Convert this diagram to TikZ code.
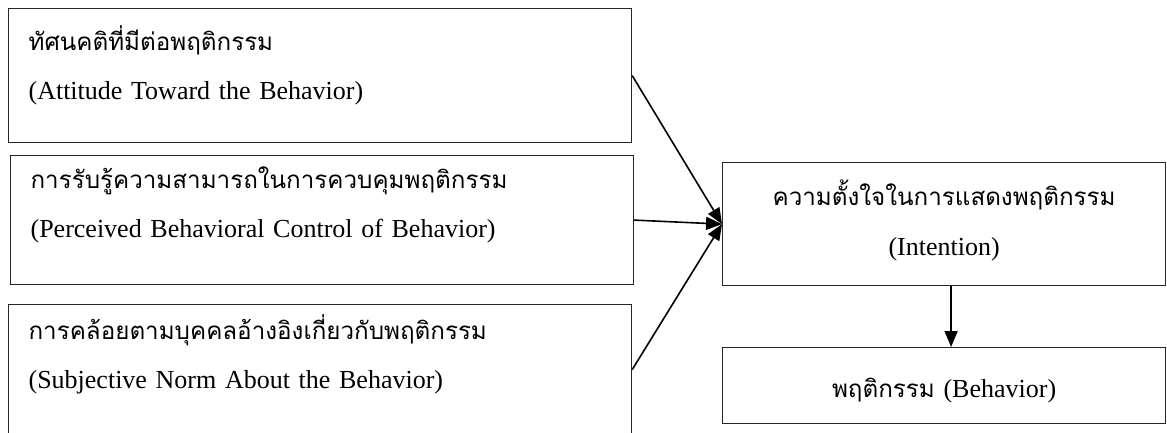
\documentclass[tikz,border=0pt]{standalone}
\usepackage{fontspec}
\setmainfont{Liberation Serif}
\newfontfamily\thaifont[Script=Thai, Scale=0.93]{Loma}
\usetikzlibrary{arrows.meta}

\begin{document}
\begin{tikzpicture}[x=1pt, y=-1pt,
    lbox/.style={draw=black!85, line width=1.2pt, anchor=north west, inner xsep=20pt, inner ysep=0pt,
      text width=583pt, align=left, font=\fontsize{26pt}{49pt}\selectfont},
    rbox/.style={draw=black!85, line width=1.2pt, anchor=north west, inner xsep=0pt, inner ysep=0pt,
      text width=443pt, align=center, font=\fontsize{26pt}{50pt}\selectfont},
    arr/.style={-{Triangle[length=16pt, width=13pt]}, line width=1.6pt}]
  \useasboundingbox (0,0) rectangle (1167,433);

  % the three factors on the left
  \node[lbox, text height=42pt, text depth=92pt] (nAtt) at (8,8)
    {{\thaifont ทัศนคติที่มีต่อพฤติกรรม}\\(Attitude Toward the Behavior)};
  \node[lbox, text height=33pt, text depth=96pt] (nPbc) at (10,155)
    {{\thaifont การรับรู้ความสามารถในการควบคุมพฤติกรรม}\\(Perceived Behavioral Control of Behavior)};
  \node[lbox, text height=35pt, text depth=95pt] (nSn) at (8,304)
    {{\thaifont การคล้อยตามบุคคลอ้างอิงเกี่ยวกับพฤติกรรม}\\(Subjective Norm About the Behavior)};

  % intention and behavior
  \node[rbox, text height=43pt, text depth=80pt] (nInt) at (722,162)
    {{\thaifont ความตั้งใจในการแสดงพฤติกรรม}\\(Intention)};
  \node[rbox, text height=50pt, text depth=26pt] (nBeh) at (722,347)
    {{\thaifont พฤติกรรม} (Behavior)};

  \draw[arr] (nAtt.east) -- (nInt.west);
  \draw[arr] (nPbc.east) -- (nInt.west);
  \draw[arr] (nSn.east) -- (nInt.west);
  \draw[arr] ([xshift=7pt]nInt.south) -- ([xshift=7pt]nBeh.north);
\end{tikzpicture}
\end{document}
